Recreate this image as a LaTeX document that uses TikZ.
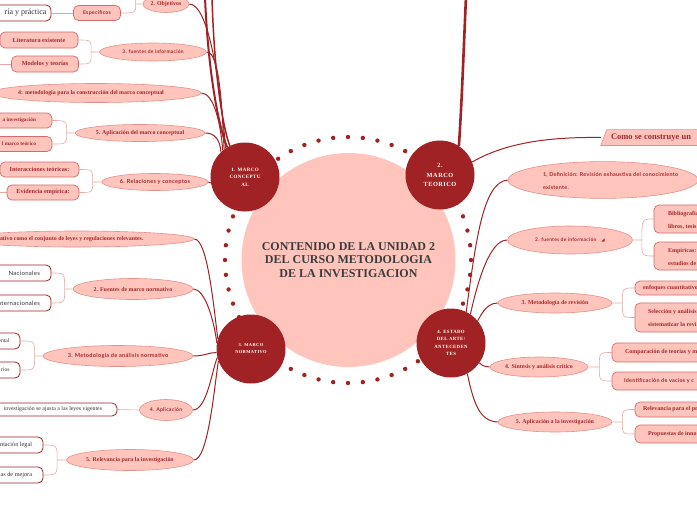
\documentclass[tikz,border=0pt]{standalone}
\usepackage{fontspec}
\setmainfont{Liberation Serif}
\newfontfamily\lato[LetterSpace=5]{Lato}
\newfontfamily\dejavu{DejaVu Sans}
\newfontfamily\spserif[LetterSpace=8]{Liberation Serif}
\usetikzlibrary{shapes.geometric,calc}
\pgfdeclarelayer{bg}
\pgfsetlayers{bg,main}
\definecolor{darkR}{HTML}{A02224}
\definecolor{pinkF}{HTML}{FFC5BD}
\definecolor{ellB}{HTML}{E39089}
\definecolor{boxB}{HTML}{D56A6A}
\definecolor{txtR}{HTML}{A4282B}
\definecolor{brC}{HTML}{E2AAA6}
\definecolor{cTxt}{HTML}{3C3C3C}
\newcommand\ct[1]{\makebox[0pt]{#1}}
\newcommand\lt[2]{\makebox[0pt][l]{\hspace*{#1pt}#2}}
\newcommand\rt[2]{\makebox[0pt][r]{#2\hspace*{-#1pt}}}
\newcommand\sh[2]{\makebox[0pt]{\hspace*{#1pt}#2}}
\begin{document}
\begin{tikzpicture}[x=1pt,y=-1pt,
  wh/.style 2 args={minimum width=#1pt, minimum height=#2pt},
  ell/.style={ellipse, draw=ellB, fill=pinkF, line width=0.6pt, inner sep=0pt, text=txtR, font=\fontsize{5.9}{7}\selectfont\bfseries},
  ells/.style={ell, font=\lato\fontsize{#1}{7}\selectfont\bfseries},
  pb/.style={rectangle, rounded corners=5pt, draw=boxB, fill=pinkF, line width=0.7pt, inner sep=0pt, text=txtR, font=\fontsize{6.2}{7}\selectfont\bfseries},
  wb/.style={rectangle, rounded corners=5pt, draw=darkR, fill=white, line width=0.8pt, inner sep=0pt, text=black!80, font=\fontsize{6.2}{7}\selectfont},
  hub/.style={circle, fill=darkR, inner sep=0pt, minimum size=69pt, text=white, align=center},
  lead/.style={draw=darkR, line width=1pt},
  brc/.style={draw=brC, line width=0.6pt}]
\useasboundingbox (0,0) rectangle (697,520);
\clip (0,0) rectangle (697,520);

% ring of dots
\foreach \i in {0,...,51} \fill[darkR] ($(348,260)+({90+6.923*\i}:123)$) circle (2.2);

% centre
\node[circle, fill=pinkF, minimum size=214pt, inner sep=0pt, text=cTxt, align=center,
      font=\fontsize{12}{13.7}\selectfont\bfseries] (ctr) at (348.5,260)
      {CONTENIDO DE LA UNIDAD 2\\DEL CURSO METODOLOGIA\\DE LA INVESTIGACION};

% hubs
\node[hub, font=\spserif\bfseries\fontsize{5}{7.5}\selectfont] (h1) at (245,177) {1. MARCO\\CONCEPTU\\AL};
\node[hub, font=\spserif\bfseries\fontsize{6.3}{9.7}\selectfont] (h2) at (440,175) {2.\\MARCO\\TEORICO};
\node[hub, font=\spserif\bfseries\fontsize{4.5}{7}\selectfont] (h3) at (251,349) {3. MARCO\\NORMATIVO};
\node[hub, font=\spserif\bfseries\fontsize{4.8}{7.4}\selectfont] (h4) at (451,343) {4. ESTADO\\DEL ARTE/\\ANTECEDEN\\TES};

% ---------- left of hub 1
\node[ell, wh={46}{17}] (eobj) at (166,4) {\ct{2. Objetivos}};
\node[pb, font=\lato\fontsize{5.2}{7}\selectfont\bfseries, wh={47}{15}] (besp) at (97,13) {\ct{Específicos}};
\node[wb, font=\fontsize{8}{9}\selectfont, wh={81}{16}] (bteo) at (10.5,13) {\rt{36}{ría y práctica}};
\coordinate (offobj) at (118,-8);
\node[ells=4.9, wh={107}{18}] (efue) at (153,52) {\ct{3. fuentes de información}};
\node[pb, wh={78}{16}] (blit) at (39,40) {\ct{Literatura existente}};
\node[pb, wh={67}{16}] (bmod) at (45,64) {\ct{Modelos y teorías}};
\coordinate (offmod) at (-5,64);
\node[ell, wh={210}{19}] (emet) at (96,93) {\sh{-10}{4: metodologia para la construcción del marco conceptual}};
\node[ell, wh={130}{17}] (eapl) at (140,133) {\ct{5. Aplicación del marco conceptual}};
\node[pb, font=\fontsize{5.3}{7}\selectfont\bfseries, wh={92}{15}] (binv) at (6,120.5) {\rt{30}{a investigación}};
\node[pb, font=\fontsize{5.3}{7}\selectfont\bfseries, wh={92}{15}] (bmt) at (6,144) {\rt{30}{l marco teórico}};
\node[ells=5.6, wh={106}{17}] (erel) at (155,182) {\ct{6. Relaciones y conceptos}};
\node[pb, wh={79}{15}] (bint) at (39.5,169.5) {\ct{Interacciones teóricas:}};
\node[pb, wh={72}{15}] (bevi) at (43,192.5) {\ct{Evidencia empírica:}};
\coordinate (offevi) at (-5,192.5);
\coordinate (top1) at (205,-3);
\coordinate (top2) at (212,-3);

% ---------- left of hub 3
\node[ell, wh={234}{16}] (en1) at (77,239) {\lt{-77}{ativo como el conjunto de leyes y regulaciones relevantes.}};
\node[ell, wh={120}{21}] (en2) at (133,289) {\ct{2. Fuentes de marco normativo}};
\node[wb, font=\lato\fontsize{6}{7}\selectfont, wh={81}{16}] (bnac) at (10.5,273) {\rt{29.5}{Nacionales}};
\node[wb, font=\lato\fontsize{6}{7}\selectfont, wh={81}{16}] (bint2) at (10.5,303) {\rt{29.5}{Internacionales}};
\node[ells=5.6, wh={150}{21}] (en3) at (118,356) {\ct{3. Metodología de análisis normativo}};
\node[wb, font=\fontsize{5.6}{7}\selectfont, wh={60}{16}] (bent) at (-10,341) {\rt{19.5}{ental}};
\node[wb, font=\fontsize{5.6}{7}\selectfont, wh={60}{16}] (brio) at (-10,370) {\rt{19.5}{rios}};
\node[ells=5.1, wh={53}{21}] (en4) at (166,410) {\ct{4. Aplicación}};
\node[wb, font=\fontsize{5.8}{7}\selectfont, wh={177}{13}] (bley) at (28.5,409.5) {\rt{73.5}{investigación se ajusta a las leyes vigentes}};
\node[ell, wh={127}{21}] (en5) at (130,460) {\ct{5. Relevancia para la investigación}};
\node[wb, wh={83}{16}] (bleg) at (1.5,445) {\rt{30.5}{ntación legal}};
\node[wb, wh={83}{16}] (bmej) at (1.5,475) {\rt{30.5}{as de mejora}};

% ---------- hub 2
\coordinate (top3) at (466,-3);
\node[inner sep=0pt, wh={200}{15.5}, text=txtR, font=\fontsize{8.5}{9}\selectfont\bfseries] (ttl) at (701,137.5) {\lt{-90}{Como se construye un}};

% ---------- right of hub 4
\node[ell, wh={190}{36}, font=\lato\fontsize{5.4}{13}\selectfont\bfseries] (ed1) at (603,180)
   {\lt{-60}{\begin{tabular}{@{}l@{}}1, Definición: Revisión exhaustiva del conocimiento\\existente.\end{tabular}}};
\node[ells=4.9, wh={125}{28}] (ed2) at (570,240) {\ct{2. fuentes de información\hspace{5pt}{\dejavu\fontsize{4.5}{5}\selectfont ◢}}};
\node[pb, wh={106}{28}, font=\fontsize{6}{13}\selectfont\bfseries] (bbib) at (707,219) {\lt{-39}{\begin{tabular}{@{}l@{}}Bibliografía\\libros, tesis\end{tabular}}};
\node[pb, wh={106}{28}, font=\fontsize{6}{13}\selectfont\bfseries] (bemp) at (707,256) {\lt{-39}{\begin{tabular}{@{}l@{}}Empíricas:\\estudios de\end{tabular}}};
\node[ell, wh={114}{20}] (ed3) at (555,303) {\ct{3. Metodología de revisión}};
\node[pb, wh={125}{14}, font=\fontsize{6}{13}\selectfont\bfseries] (benf) at (697.5,288) {\lt{-54.5}{enfoques cuantitativos}};
\node[pb, wh={125}{29}, font=\fontsize{6}{13}\selectfont\bfseries] (bsel) at (697.5,317.5) {\lt{-49.5}{\begin{tabular}{@{}l@{}}Selección y análisis\\sistematizar la revi\end{tabular}}};
\node[ell, wh={98}{20}] (ed4) at (539,367) {\ct{4. Síntesis y análisis crítico}};
\node[pb, wh={148}{19}, font=\fontsize{6}{13}\selectfont\bfseries] (bcom) at (686,352.5) {\lt{-61}{Comparación de teorías y m}};
\node[pb, wh={148}{18}, font=\lato\fontsize{5.4}{13}\selectfont\bfseries] (bide) at (686,381) {\lt{-62}{Identificación de vacíos y c}};
\node[ell, wh={114}{20}] (ed5) at (555,422) {\ct{5. Aplicación a la investigación}};
\node[pb, wh={125}{15}, font=\fontsize{6}{13}\selectfont\bfseries] (brel) at (697.5,409.5) {\lt{-54.5}{Relevancia para el pr}};
\node[pb, wh={125}{18}, font=\fontsize{6}{13}\selectfont\bfseries] (bpro) at (697.5,434) {\lt{-49.5}{Propuestas de inno}};

% ---------- connectors (background)
\begin{pgfonlayer}{bg}
\clip (0,0) rectangle (697,520);
\filldraw[fill=pinkF, draw=ellB, line width=0.6pt] ($(ttl.north west)+(6,0)$) -- (ttl.north east) -- (ttl.south east) -- (ttl.south west) -- cycle;
\draw[lead, line width=2pt] (top1) .. controls (208,70) and (218,125) .. (h1.121);
\draw[lead, line width=1.5pt] (top2) .. controls (214,70) and (222,125) .. (h1.116);
\draw[lead] (eobj.east) .. controls (207,4) and (219,70) .. (h1.124);
\draw[lead] (efue.east) .. controls (220,52) and (222,110) .. (h1.127);
\draw[lead] (emet.east) .. controls (214,93) and (221,125) .. (h1.130);
\draw[lead] (eapl.east) .. controls (215,133) and (220,140) .. (h1.134);
\draw[lead] (erel.east) -- (h1.190);
\draw[darkR, line width=2.6pt] (h2.57) .. controls (462,100) and (464,40) .. (top3);
\draw[lead] (h2.22) .. controls (510,140) and (560,137) .. (ttl.west);
\draw[lead] (en1.east) .. controls (207,239) and (213,300) .. (h3.163);
\draw[lead] (en2.east) .. controls (205,289) and (214,320) .. (h3.170);
\draw[lead] (en3.east) .. controls (205,356) and (210,352) .. (h3.186);
\draw[lead] (en4.east) .. controls (207,410) and (212,370) .. (h3.194);
\draw[lead] (en5.east) .. controls (208,460) and (214,390) .. (h3.200);
\draw[lead] (h4.64) .. controls (476,240) and (483,182) .. (ed1.west);
\draw[lead] (h4.56) .. controls (478,280) and (490,240) .. (ed2.west);
\draw[lead] (h4.40) .. controls (480,318) and (485,303) .. (ed3.west);
\draw[lead] (h4.-35) .. controls (483,366) .. (ed4.west);
\draw[lead] (h4.-62) .. controls (474,405) and (480,421) .. (ed5.west);
\coordinate (j1) at ($(eobj.west)+(-7,0)$);
\draw[brc] (eobj.west) -- (j1) .. controls (j1 |- besp.east) .. (besp.east);
\draw[brc] (j1) .. controls (j1 |- offobj) .. (offobj);
\draw[brc] (besp.west) -- (bteo.east);
\coordinate (j2) at ($(efue.west)+(-8,0)$);
\draw[brc] (efue.west) -- (j2) .. controls (j2 |- blit.east) .. (blit.east);
\draw[brc] (j2) .. controls (j2 |- bmod.east) .. (bmod.east);
\draw[brc] (bmod.west) -- (offmod);
\coordinate (j3) at ($(eapl.west)+(-8,0)$);
\draw[brc] (eapl.west) -- (j3) .. controls (j3 |- binv.east) .. (binv.east);
\draw[brc] (j3) .. controls (j3 |- bmt.east) .. (bmt.east);
\coordinate (j4) at ($(erel.west)+(-9,0)$);
\draw[brc] (erel.west) -- (j4) .. controls (j4 |- bint.east) .. (bint.east);
\draw[brc] (j4) .. controls (j4 |- bevi.east) .. (bevi.east);
\draw[brc] (bevi.west) -- (offevi);
\coordinate (j5) at ($(en2.west)+(-8,0)$);
\draw[brc] (en2.west) -- (j5) .. controls (j5 |- bnac.east) .. (bnac.east);
\draw[brc] (j5) .. controls (j5 |- bint2.east) .. (bint2.east);
\coordinate (j6) at ($(en3.west)+(-8,0)$);
\draw[brc] (en3.west) -- (j6) .. controls (j6 |- bent.east) .. (bent.east);
\draw[brc] (j6) .. controls (j6 |- brio.east) .. (brio.east);
\draw[brc] (en4.west) -- (bley.east);
\coordinate (j7) at ($(en5.west)+(-9,0)$);
\draw[brc] (en5.west) -- (j7) .. controls (j7 |- bleg.east) .. (bleg.east);
\draw[brc] (j7) .. controls (j7 |- bmej.east) .. (bmej.east);
\coordinate (k1) at ($(ed2.east)+(9,0)$);
\draw[brc] (ed2.east) -- (k1) .. controls (k1 |- bbib.west) .. (bbib.west);
\draw[brc] (k1) .. controls (k1 |- bemp.west) .. (bemp.west);
\coordinate (k2) at ($(ed3.east)+(10,0)$);
\draw[brc] (ed3.east) -- (k2) .. controls (k2 |- benf.west) .. (benf.west);
\draw[brc] (k2) .. controls (k2 |- bsel.west) .. (bsel.west);
\coordinate (k3) at ($(ed4.east)+(11,0)$);
\draw[brc] (ed4.east) -- (k3) .. controls (k3 |- bcom.west) .. (bcom.west);
\draw[brc] (k3) .. controls (k3 |- bide.west) .. (bide.west);
\coordinate (k4) at ($(ed5.east)+(10,0)$);
\draw[brc] (ed5.east) -- (k4) .. controls (k4 |- brel.west) .. (brel.west);
\draw[brc] (k4) .. controls (k4 |- bpro.west) .. (bpro.west);
\end{pgfonlayer}
\end{tikzpicture}
\end{document}
